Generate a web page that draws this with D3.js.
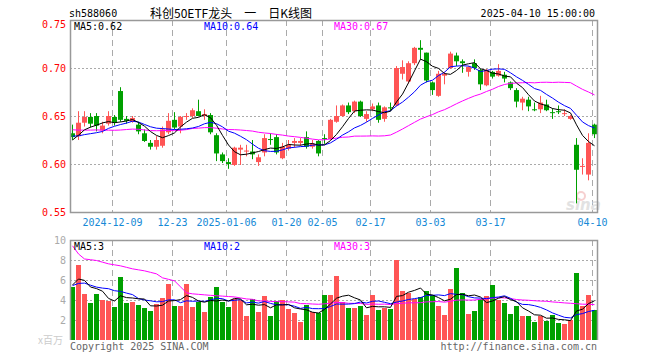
<!DOCTYPE html>
<html>
<head>
<meta charset="utf-8">
<script src="https://cdn.jsdelivr.net/npm/d3@7"></script>
<style>
body { margin: 0; background: #fff; }
text { font-family: "DejaVu Sans Mono", "Liberation Mono", monospace; font-size: 10px; }
</style>
</head>
<body>
<script>
// trading days shown on the chart
const dates = [
  "2024-11-28","2024-11-29",
  "2024-12-02","2024-12-03","2024-12-04","2024-12-05","2024-12-06","2024-12-09","2024-12-10","2024-12-11","2024-12-12","2024-12-13",
  "2024-12-16","2024-12-17","2024-12-18","2024-12-19","2024-12-20","2024-12-23","2024-12-24","2024-12-25","2024-12-26","2024-12-27",
  "2024-12-30","2024-12-31",
  "2025-01-02","2025-01-03","2025-01-06","2025-01-07","2025-01-08","2025-01-09","2025-01-10","2025-01-13","2025-01-14","2025-01-15",
  "2025-01-16","2025-01-17","2025-01-20","2025-01-21","2025-01-22","2025-01-23","2025-01-24","2025-01-27",
  "2025-02-05","2025-02-06","2025-02-07","2025-02-10","2025-02-11","2025-02-12","2025-02-13","2025-02-14","2025-02-17","2025-02-18",
  "2025-02-19","2025-02-20","2025-02-21","2025-02-24","2025-02-25","2025-02-26","2025-02-27","2025-02-28",
  "2025-03-03","2025-03-04","2025-03-05","2025-03-06","2025-03-07","2025-03-10","2025-03-11","2025-03-12","2025-03-13","2025-03-14",
  "2025-03-17","2025-03-18","2025-03-19","2025-03-20","2025-03-21","2025-03-24","2025-03-25","2025-03-26","2025-03-27","2025-03-28",
  "2025-03-31","2025-04-01","2025-04-02","2025-04-03","2025-04-07","2025-04-08","2025-04-09","2025-04-10"
];

const open = [
  0.632,0.629,0.643,0.649,0.650,0.635,0.642,0.649,0.676,0.647,0.644,0.641,0.632,0.622,0.618,0.619,0.633,0.646,0.639,0.649,
  0.650,0.655,0.650,0.651,0.630,0.610,0.602,0.599,0.615,0.613,0.613,0.602,0.612,0.626,0.628,0.606,0.616,0.622,0.622,0.628,
  0.618,0.624,0.627,0.626,0.644,0.650,0.661,0.655,0.665,0.647,0.657,0.661,0.647,0.659,0.661,0.694,0.686,0.705,0.721,0.716,
  0.685,0.671,0.692,0.700,0.713,0.707,0.696,0.705,0.698,0.682,0.696,0.692,0.693,0.685,0.677,0.664,0.667,0.657,0.657,0.662,
  0.654,0.655,0.652,0.647,0.620,0.597,0.589,0.641
];
const high = [
  0.641,0.655,0.655,0.653,0.653,0.644,0.655,0.651,0.680,0.650,0.650,0.644,0.636,0.625,0.629,0.639,0.653,0.654,0.650,0.653,
  0.658,0.667,0.657,0.653,0.632,0.612,0.606,0.618,0.620,0.620,0.625,0.610,0.631,0.632,0.631,0.622,0.625,0.627,0.627,0.634,
  0.625,0.625,0.631,0.647,0.661,0.662,0.664,0.666,0.666,0.655,0.663,0.664,0.660,0.664,0.702,0.708,0.707,0.722,0.729,0.716,
  0.686,0.697,0.696,0.717,0.716,0.709,0.702,0.709,0.699,0.699,0.697,0.704,0.696,0.686,0.679,0.670,0.670,0.664,0.671,0.667,
  0.658,0.661,0.657,0.651,0.627,0.606,0.632,0.642
];
const low = [
  0.625,0.625,0.639,0.638,0.634,0.632,0.640,0.640,0.644,0.642,0.643,0.631,0.623,0.615,0.615,0.617,0.631,0.636,0.632,0.646,
  0.648,0.650,0.646,0.631,0.603,0.601,0.595,0.598,0.599,0.608,0.605,0.598,0.608,0.620,0.610,0.605,0.614,0.617,0.619,0.616,
  0.616,0.608,0.621,0.625,0.643,0.649,0.652,0.653,0.649,0.644,0.655,0.643,0.644,0.655,0.660,0.688,0.684,0.703,0.709,0.685,
  0.672,0.670,0.683,0.699,0.702,0.695,0.691,0.698,0.677,0.681,0.689,0.691,0.685,0.677,0.659,0.656,0.655,0.655,0.653,0.655,
  0.647,0.652,0.650,0.646,0.559,0.589,0.583,0.627
];
const close = [
  0.628,0.643,0.649,0.642,0.640,0.640,0.650,0.643,0.646,0.645,0.648,0.634,0.624,0.618,0.625,0.636,0.645,0.638,0.649,0.650,
  0.656,0.650,0.652,0.633,0.611,0.603,0.600,0.617,0.617,0.614,0.610,0.607,0.627,0.625,0.612,0.618,0.620,0.624,0.624,0.618,
  0.621,0.611,0.626,0.646,0.650,0.661,0.654,0.665,0.650,0.652,0.660,0.646,0.659,0.658,0.700,0.701,0.705,0.721,0.719,0.687,
  0.677,0.694,0.694,0.715,0.707,0.705,0.701,0.700,0.683,0.698,0.691,0.697,0.689,0.679,0.665,0.668,0.660,0.656,0.664,0.656,
  0.653,0.654,0.653,0.650,0.594,0.598,0.622,0.631
];
// volume, millions
const volume = [
  5.3,7.5,4.6,3.7,4.6,4.0,3.9,3.3,6.3,3.7,3.8,3.5,3.2,2.9,3.6,4.2,5.6,3.4,3.4,5.6,
  3.3,3.8,2.8,4.3,5.3,3.8,3.3,4.1,4.0,2.4,4.1,2.8,4.4,2.4,3.9,4.0,3.1,2.7,1.8,3.5,
  2.8,2.7,4.5,4.5,6.4,3.8,3.2,3.2,3.4,2.5,4.5,3.0,3.2,3.1,8.0,4.9,4.7,4.1,4.3,4.9,
  4.5,3.4,2.5,5.1,7.2,4.7,2.6,2.9,4.1,4.4,5.5,4.0,3.7,2.6,3.4,2.4,2.4,1.8,2.4,1.9,
  2.5,1.7,1.6,2.0,6.7,3.4,4.5,3.0
];
// the 29 sessions before the first one, estimated from where the MA lines start
const priorClose = [
  0.655,0.648,0.641,0.636,0.645,0.652,0.646,0.638,0.630,0.634,0.641,0.645,0.637,0.629,0.633,0.640,0.644,0.636,0.630,0.620,
  0.640,0.636,0.632,0.630,0.627,0.618,0.621,0.628,0.630
];
const priorVolume = [
  32.0,19.6,6.0,6.9,9.0,8.9,6.3,9.3,8.2,8.3,6.5,6.2,7.4,8.1,16.2,10.1,7.9,21.4,23.6,6.3,
  5.3,4.3,5.8,6.5,5.0,4.5,5.3,7.0,5.4
];

const tickDates = ["2024-12-09","2024-12-23","2025-01-06","2025-01-20","2025-02-05","2025-02-17","2025-03-03","2025-03-17","2025-04-10"];
const tickLabels = ["2024-12-09","12-23","2025-01-06","01-20","02-05","02-17","03-03","03-17","04-10"];
const priceTicks = [0.75, 0.70, 0.65, 0.60, 0.55];
const volTicks = [10, 8, 6, 4, 2];

const W = 660, H = 360;
const left = 70, right = 598;
const pTop = 20, pBottom = 212;
const vTop = 240, vBottom = 340;
const RED = "#ff5555", GREEN = "#00a000";

const svg = d3.select("body").append("svg")
    .attr("width", W)
    .attr("height", H);

const x = d3.scaleBand().domain(dates).range([left, right]).padding(0);
const cx = d => x(d) + 2.5;
const y = d3.scaleLinear().domain([0.55, 0.75]).range([pBottom, pTop]);
const yv = d3.scaleLinear().domain([0, 10]).range([vBottom, vTop]);

const bars = dates.map((d, i) => ({
    date: d, o: open[i], h: high[i], l: low[i], c: close[i], v: volume[i],
    up: close[i] >= open[i]
}));

function movingAvg(prior, vals, n) {
    const all = prior.concat(vals);
    const off = prior.length;
    return vals.map((v, i) => d3.mean(all.slice(off + i - n + 1, off + i + 1)));
}
const ma = { 5: movingAvg(priorClose, close, 5), 10: movingAvg(priorClose, close, 10), 30: movingAvg(priorClose, close, 30) };
const vma = { 5: movingAvg(priorVolume, volume, 5), 10: movingAvg(priorVolume, volume, 10), 30: movingAvg(priorVolume, volume, 30) };
const maColor = { 5: "#000", 10: "#0000ff", 30: "#ff00ff" };

// header
svg.append("text").attr("x", 69).attr("y", 17).attr("fill", "#000").text("sh588060");
svg.append("text").attr("x", 150).attr("y", 18)
    .style("font-family", "'Noto Sans CJK SC', sans-serif").style("font-size", "12px")
    .attr("fill", "#000").text("科创50ETF龙头\u3000一\u3000日K线图");
svg.append("text").attr("x", 595).attr("y", 17).attr("text-anchor", "end").attr("fill", "#000").text("2025-04-10 15:00:00");

// grid lines
const grid = svg.append("g");
grid.selectAll(".hp").data(priceTicks.slice(1, -1)).join("line")
    .attr("x1", left).attr("x2", right)
    .attr("y1", d => Math.round(y(d)) + 0.5).attr("y2", d => Math.round(y(d)) + 0.5)
    .attr("stroke", "#aaa").attr("stroke-dasharray", "2,2");
grid.selectAll(".hv").data(volTicks.slice(1)).join("line")
    .attr("x1", left).attr("x2", right)
    .attr("y1", d => Math.round(yv(d)) + 0.5).attr("y2", d => Math.round(yv(d)) + 0.5)
    .attr("stroke", "#aaa").attr("stroke-dasharray", "2,2");
[[pTop, pBottom], [vTop, vBottom]].forEach(([a, b]) => {
    grid.selectAll(null).data(tickDates).join("line")
        .attr("x1", d => x(d) + 0.5).attr("x2", d => x(d) + 0.5)
        .attr("y1", a).attr("y2", b)
        .attr("stroke", "#aaa").attr("stroke-dasharray", "6,4");
});

// watermark
svg.append("text").attr("x", 566).attr("y", 210)
    .style("font-family", "'DejaVu Sans', sans-serif").style("font-size", "15px")
    .style("font-weight", "bold").style("font-style", "italic")
    .attr("fill", "#e2e2e2").text("sina");
svg.append("circle").attr("cx", 581).attr("cy", 196).attr("r", 4).attr("fill", "none").attr("stroke", "#f6d0d0").attr("stroke-width", 2);

// price axis labels
svg.selectAll(".pl").data(priceTicks).join("text")
    .attr("x", 66).attr("text-anchor", "end")
    .attr("y", d => d === 0.75 ? 28 : y(d) + 4)
    .attr("fill", "#ff0000")
    .text(d => d.toFixed(2));

// candles
const candle = svg.append("g").selectAll("g").data(bars).join("g");
candle.append("line")
    .attr("x1", d => cx(d.date)).attr("x2", d => cx(d.date))
    .attr("y1", d => y(d.h)).attr("y2", d => y(d.l))
    .attr("stroke", d => d.up ? RED : GREEN);
candle.append("rect")
    .attr("x", d => x(d.date)).attr("width", 5)
    .attr("y", d => y(Math.max(d.o, d.c)))
    .attr("height", d => Math.max(1, Math.abs(y(d.o) - y(d.c))))
    .attr("fill", d => d.up ? RED : GREEN);

// MA lines on price
const line = d3.line().x((d, i) => cx(dates[i])).y(d => y(d));
[30, 10, 5].forEach(n => {
    svg.append("path").datum(ma[n]).attr("d", line)
        .attr("fill", "none").attr("stroke", maColor[n]).attr("stroke-width", 1);
});

// volume bars
svg.append("g").selectAll("rect").data(bars).join("rect")
    .attr("x", d => x(d.date)).attr("width", 5)
    .attr("y", d => yv(d.v)).attr("height", d => vBottom - yv(d.v))
    .attr("fill", d => d.up ? RED : GREEN);

const vline = d3.line().x((d, i) => cx(dates[i])).y(d => yv(d));
[30, 10, 5].forEach(n => {
    svg.append("path").datum(vma[n]).attr("d", vline)
        .attr("fill", "none").attr("stroke", maColor[n]).attr("stroke-width", 1);
});

// frames
svg.append("rect").attr("x", left + 0.5).attr("y", pTop + 0.5)
    .attr("width", right - left - 1).attr("height", pBottom - pTop)
    .attr("fill", "none").attr("stroke", "#999").attr("stroke-width", 1.5);
svg.append("path")
    .attr("d", `M${left + 0.5},${vBottom}V${vTop + 0.5}H${right - 0.5}V${vBottom}`)
    .attr("fill", "none").attr("stroke", "#999").attr("stroke-width", 1.5);

// MA readouts
const fmtP = v => v.toFixed(2);
[[5, 74], [10, 204], [30, 334]].forEach(([n, px]) => {
    svg.append("text").attr("x", px).attr("y", 30).attr("fill", maColor[n])
        .text("MA" + n + ":" + fmtP(ma[n][ma[n].length - 1]));
    svg.append("text").attr("x", px).attr("y", 250).attr("fill", maColor[n])
        .text("MA" + n + ":" + Math.floor(vma[n][vma[n].length - 1]));
});

// date labels
svg.selectAll(".dl").data(tickDates).join("text")
    .attr("x", d => x(d) + 0.5).attr("y", 226).attr("text-anchor", "middle")
    .attr("fill", "#1589d6")
    .text((d, i) => tickLabels[i]);

// volume axis labels
svg.selectAll(".vl").data(volTicks).join("text")
    .attr("x", 66).attr("y", d => yv(d) + 4).attr("text-anchor", "end")
    .attr("fill", "#aaa").text(d => d);
svg.append("text").attr("x", 38).attr("y", 344)
    .style("font-family", "'Noto Sans CJK SC', sans-serif").style("font-size", "10px")
    .attr("fill", "#ccc").text("x百万");

// footer
svg.append("text").attr("x", 70).attr("y", 350).attr("fill", "#666").text("Copyright 2025 SINA.COM");
svg.append("text").attr("x", 597).attr("y", 350).attr("text-anchor", "end").attr("fill", "#666").text("http://finance.sina.com.cn");
</script>
</body>
</html>
